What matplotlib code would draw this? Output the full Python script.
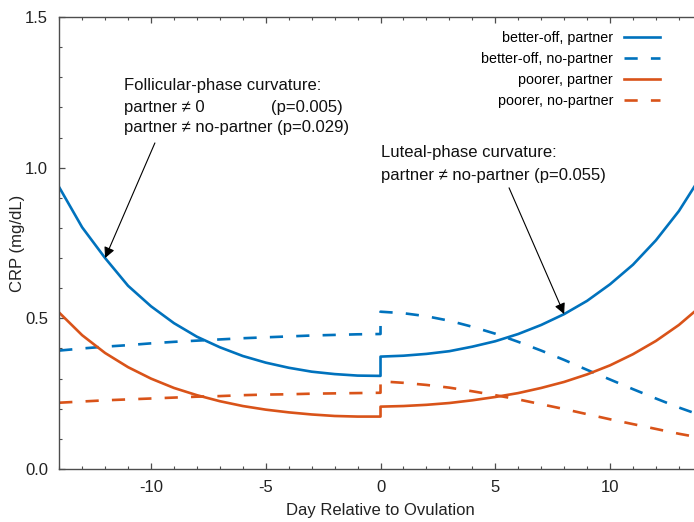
"""
CRP across the cycle by SES and partner status (gnuplot-style figure).
"""

import matplotlib.pyplot as plt
from matplotlib.ticker import MultipleLocator

plt.rcParams['font.family'] = ['Liberation Sans', 'DejaVu Sans']
plt.rcParams['axes.unicode_minus'] = False

# Days relative to ovulation, follicular side and luteal side (0 appears in both)
days_fol = list(range(-14, 1))
days_lut = list(range(0, 15))

# CRP (mg/dL)
better_partner_fol = [0.935, 0.802, 0.700, 0.608, 0.540, 0.484, 0.439, 0.404,
                      0.375, 0.353, 0.336, 0.323, 0.315, 0.310, 0.309]
better_partner_lut = [0.373, 0.376, 0.382, 0.391, 0.406, 0.424, 0.448, 0.478,
                      0.514, 0.558, 0.613, 0.678, 0.759, 0.856, 0.976]

better_nopartner_fol = [0.393, 0.400, 0.406, 0.411, 0.417, 0.422, 0.426, 0.430,
                        0.434, 0.437, 0.440, 0.443, 0.445, 0.447, 0.448]
better_nopartner_lut = [0.522, 0.517, 0.507, 0.492, 0.472, 0.449, 0.422, 0.393,
                        0.362, 0.329, 0.297, 0.265, 0.234, 0.204, 0.177]

poorer_partner_fol = [0.519, 0.444, 0.385, 0.338, 0.300, 0.269, 0.245, 0.225,
                      0.209, 0.197, 0.188, 0.181, 0.176, 0.174, 0.174]
poorer_partner_lut = [0.207, 0.209, 0.213, 0.219, 0.228, 0.239, 0.252, 0.269,
                      0.289, 0.314, 0.344, 0.381, 0.425, 0.478, 0.543]

poorer_nopartner_fol = [0.220, 0.224, 0.228, 0.231, 0.234, 0.237, 0.240, 0.242,
                        0.245, 0.247, 0.248, 0.250, 0.251, 0.252, 0.253]
poorer_nopartner_lut = [0.291, 0.286, 0.279, 0.270, 0.258, 0.245, 0.231, 0.215,
                        0.199, 0.182, 0.165, 0.149, 0.133, 0.117, 0.103]

series_labels = ["better-off, partner", "better-off, no-partner",
                 "poorer, partner", "poorer, no-partner"]

BLUE = "#0072bd"
ORANGE = "#d95319"
SPINE = "#4d4d4d"


def main():
    fig = plt.figure(figsize=(6.94, 5.22), dpi=100)
    # the right edge of the plot is cut off in the original, so the axes run past the canvas
    ax = fig.add_axes([0.0853, 0.1015, 0.926, 0.866])

    days = days_fol + days_lut
    dashed = (0, (5, 5))
    ax.plot(days, better_partner_fol + better_partner_lut, color=BLUE, lw=1.9,
            label=series_labels[0])
    ax.plot(days, better_nopartner_fol + better_nopartner_lut, color=BLUE, lw=1.9,
            ls=dashed, label=series_labels[1])
    ax.plot(days, poorer_partner_fol + poorer_partner_lut, color=ORANGE, lw=1.9,
            label=series_labels[2])
    ax.plot(days, poorer_nopartner_fol + poorer_nopartner_lut, color=ORANGE, lw=1.9,
            ls=dashed, label=series_labels[3])

    ax.set_xlim(-14, 14)
    ax.set_ylim(0, 1.5)

    # Ticks, gnuplot look
    ax.xaxis.set_major_locator(MultipleLocator(5))
    ax.xaxis.set_minor_locator(MultipleLocator(1))
    ax.yaxis.set_major_locator(MultipleLocator(0.5))
    ax.yaxis.set_minor_locator(MultipleLocator(0.1))
    ax.yaxis.set_major_formatter(lambda v, pos: f"{v:.1f}")
    ax.tick_params(which="both", direction="in", top=True, right=True,
                   colors=SPINE, labelcolor="#222222", labelsize=12, pad=8)
    ax.tick_params(which="major", length=4.5, width=0.9)
    ax.tick_params(which="minor", length=2.2, width=0.8)
    for sp in ax.spines.values():
        sp.set_color(SPINE)
        sp.set_linewidth(1.0)

    ax.set_xlabel("Day Relative to Ovulation", fontsize=12, color="#222222", labelpad=6)
    ax.set_ylabel("CRP (mg/dL)", fontsize=12, color="#222222")
    ax.yaxis.set_label_coords(-0.053, 0.5)

    # Annotations
    txt = dict(fontsize=12, color="#111111", va="center")
    ax.text(-11.18, 1.274, "Follicular-phase curvature:", ha="left", **txt)
    ax.text(-11.18, 1.201, "partner \u2260 0", ha="left", **txt)
    ax.text(-1.63, 1.201, "(p=0.005)", ha="right", **txt)
    ax.text(-11.18, 1.132, "partner \u2260 no-partner (p=0.029)", ha="left", **txt)

    ax.text(0.02, 1.050, "Luteal-phase curvature:", ha="left", **txt)
    ax.text(0.02, 0.973, "partner \u2260 no-partner (p=0.055)", ha="left", **txt)

    arrow = dict(arrowstyle="-|>", color="black", lw=0.8, mutation_scale=16,
                 shrinkA=0, shrinkB=0)
    ax.annotate("", xy=(days_fol[2], better_partner_fol[2]), xytext=(-9.83, 1.082),
                arrowprops=arrow)
    ax.annotate("", xy=(days_lut[8], better_partner_lut[8]), xytext=(5.60, 0.933),
                arrowprops=arrow)

    # Legend: text right-aligned, sample on the right
    ax.legend(loc="upper right", bbox_to_anchor=(660 / 694, 1 - 31 / 522),
              bbox_transform=fig.transFigure, frameon=False, markerfirst=False,
              fontsize=10.3, handlelength=2.5, handletextpad=0.77, labelspacing=0.48,
              borderpad=0, borderaxespad=0)

    plt.savefig("out.png", dpi=100)


if __name__ == "__main__":
    main()
